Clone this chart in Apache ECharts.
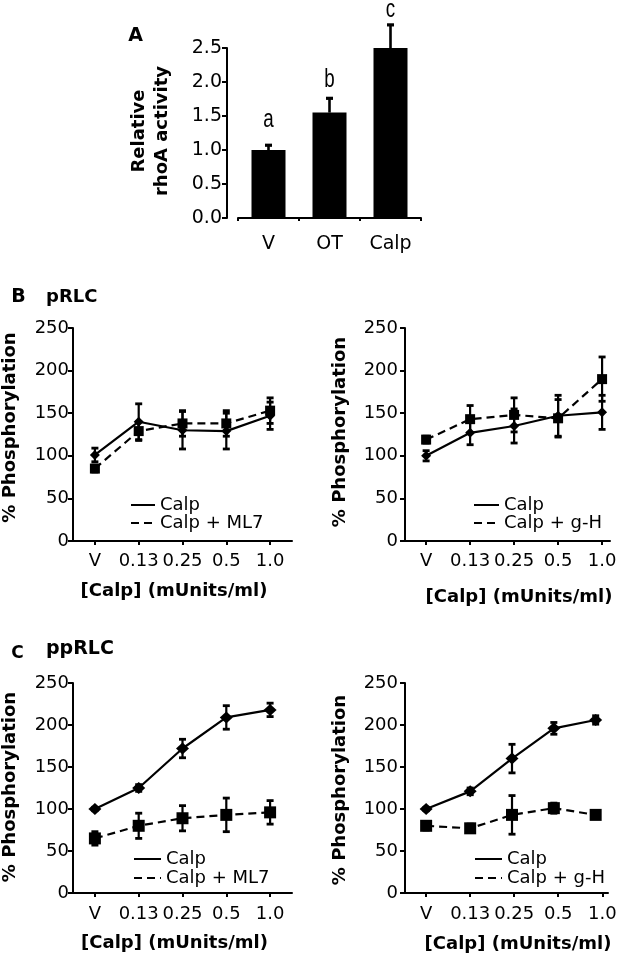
<!DOCTYPE html>
<html><head><meta charset="utf-8">
<script src="https://cdn.jsdelivr.net/npm/echarts@6/dist/echarts.min.js"></script>
<style>html,body{margin:0;padding:0;background:#fff}#c{width:622px;height:955px}</style>
</head><body><div id="c"></div>
<script>
const FONT = 'DejaVu Sans';

// ---- Panel A: relative rhoA activity ----
const aCats = ['V', 'OT', 'Calp'];
const aVals = [1.00, 1.55, 2.50];
const aErr = [0.07, 0.21, 0.34];
const aLetters = ['a', 'b', 'c'];
const aLetterY = [1.44, 2.03, 3.06];
const aTicks = [0, 0.5, 1.0, 1.5, 2.0, 2.5];

// ---- dose labels shared by B and C ----
const doseLabels = ['V', '0.13', '0.25', '0.5', '1.0'];
const dosePos = [0, 1, 2, 3, 4];

// ---- Panel B left (pRLC, Calp vs Calp + ML7) ----
const bL_x = [0, 1, 2, 3, 4];
const bL_calp = [101, 140, 130, 129, 147];
const bL_calpErr = [8, 21, 22, 21, 16];
const bL_ml7 = [85, 129, 138, 138, 153];
const bL_ml7Err = [4, 11, 15, 15, 15];

// ---- Panel B right (pRLC, Calp vs Calp + g-H) ----
const bR_x = [0, 1, 2, 3, 4];
const bR_calp = [100, 127, 135, 147, 151];
const bR_calpErr = [6, 14, 20, 24, 20];
const bR_gh = [119, 143, 148, 144, 190];
const bR_ghErr = [4, 16, 20, 22, 26];

// ---- Panel C left (ppRLC, Calp vs Calp + ML7) ----
const cL_x = [0, 1, 2, 3, 4];
const cL_calp = [100, 125, 172, 209, 218];
const cL_calpErr = [2, 4, 11, 14, 8];
const cL_ml7 = [65, 80, 89, 93, 96];
const cL_ml7Err = [8, 15, 15, 20, 14];

// ---- Panel C right (ppRLC, Calp vs Calp + g-H) ----
const cR_x = [0, 1, 1.95, 2.9, 3.85];
const cR_calp = [100, 121, 160, 196, 206];
const cR_calpErr = [2, 4, 17, 7, 5];
const cR_gh = [80, 77, 93, 101, 93];
const cR_ghErr = [5, 5, 23, 6, 4];

const chart = echarts.init(document.getElementById('c'), null, {renderer: 'canvas'});

function errRender(capW, lw, upOnly) {
  return function (params, api) {
    const x = api.value(0), y = api.value(1), e = api.value(2);
    const lo = api.coord([x, upOnly ? y : y - e]);
    const hi = api.coord([x, y + e]);
    const style = {stroke: '#000', lineWidth: lw, fill: null};
    const capStyle = Object.assign({}, style, {lineWidth: lw + 0.6});
    const kids = [
      {type: 'line', shape: {x1: lo[0], y1: lo[1], x2: hi[0], y2: hi[1]}, style: style},
      {type: 'line', shape: {x1: hi[0] - capW, y1: hi[1], x2: hi[0] + capW, y2: hi[1]}, style: capStyle}
    ];
    if (!upOnly) kids.push({type: 'line', shape: {x1: lo[0] - capW, y1: lo[1], x2: lo[0] + capW, y2: lo[1]}, style: capStyle});
    return {type: 'group', children: kids};
  };
}

function lineSeries(name, xs, ys, idx, dashed, symbol, size) {
  return {
    type: 'line', name: name, xAxisIndex: idx, yAxisIndex: idx,
    data: xs.map((x, i) => [x, ys[i]]), symbol: symbol, symbolSize: size,
    showSymbol: true, lineStyle: {color: '#000', width: 2.2, type: dashed ? [8, 5] : 'solid'},
    itemStyle: {color: '#000'}, z: 3, animation: false, silent: true
  };
}
function errSeries(xs, ys, es, idx) {
  return {
    type: 'custom', xAxisIndex: idx, yAxisIndex: idx, encode: {x: 0, y: 1},
    data: xs.map((x, i) => [x, ys[i], es[i]]), renderItem: errRender(3.5, 2.2, false),
    z: 4, silent: true, animation: false, clip: false
  };
}

const grids = [
  {left: 238, top: 48, width: 183, height: 170},
  {left: 73, top: 328, width: 219, height: 213},
  {left: 405, top: 328, width: 205, height: 213},
  {left: 73, top: 683, width: 219, height: 210},
  {left: 405, top: 683, width: 203, height: 210}
].map(g => Object.assign({containLabel: false, outerBoundsMode: 'none'}, g));

const axisLineStyle = {show: true, onZero: false, lineStyle: {color: '#000', width: 2}};
const labelStyle = {color: '#000', fontFamily: FONT, fontSize: 18};

function doseX(idx, min, max) {
  return {
    type: 'value', gridIndex: idx, min: min, max: max,
    axisLine: axisLineStyle, splitLine: {show: false},
    axisTick: {show: true, length: 4, inside: false, lineStyle: {color: '#000', width: 2}, customValues: dosePos},
    axisLabel: Object.assign({margin: idx >= 3 ? 12 : 11, customValues: dosePos,
      formatter: v => doseLabels[Math.round(v)]}, labelStyle)
  };
}
function phosY(idx, margin) {
  return {
    type: 'value', gridIndex: idx, min: 0, max: 250, interval: 50,
    axisLine: axisLineStyle, splitLine: {show: false},
    axisTick: {show: true, length: 5, lineStyle: {color: '#000', width: 2}},
    axisLabel: Object.assign({margin: margin}, labelStyle)
  };
}

const xAxes = [
  {type: 'category', gridIndex: 0, data: aCats, boundaryGap: true,
   axisLine: axisLineStyle,
   axisTick: {show: true, length: 3, interval: 0, alignWithLabel: false, lineStyle: {color: '#000', width: 2}},
   axisLabel: {color: '#000', fontFamily: FONT, fontSize: 19, margin: 17}},
  doseX(1, -0.5, 4.5),
  doseX(2, -0.48, 4.18),
  doseX(3, -0.5, 4.5),
  doseX(4, -0.48, 4.13)
];
const yAxes = [
  {type: 'value', gridIndex: 0, min: 0, max: 2.5, interval: 0.5, offset: 11,
   axisLine: axisLineStyle, splitLine: {show: false},
   axisTick: {show: true, length: 5, lineStyle: {color: '#000', width: 2}},
   axisLabel: {color: '#000', fontFamily: FONT, fontSize: 19, margin: 5, formatter: v => v.toFixed(1)}},
  phosY(1, 4), phosY(2, 7), phosY(3, 4), phosY(4, 7)
];

const series = [
  {type: 'bar', xAxisIndex: 0, yAxisIndex: 0, data: aVals, barWidth: 34,
   itemStyle: {color: '#000'}, animation: false, silent: true},
  {type: 'custom', xAxisIndex: 0, yAxisIndex: 0, encode: {x: 0, y: 1},
   data: aVals.map((v, i) => [i, v, aErr[i]]), renderItem: errRender(3.5, 2.6, true),
   z: 4, silent: true, animation: false, clip: false},
  {type: 'custom', xAxisIndex: 0, yAxisIndex: 0, encode: {x: 0, y: 1},
   data: aLetterY.map((v, i) => [i, v]), clip: false, silent: true, animation: false,
   renderItem: function (params, api) {
     const p = api.coord([api.value(0), api.value(1)]);
     return {type: 'text', x: p[0], y: p[1], scaleX: 0.75,
       style: {text: aLetters[params.dataIndex], font: '25px "Liberation Sans"', fill: '#000',
         textAlign: 'center', textVerticalAlign: 'middle'}};
   }},

  lineSeries('Calp', bL_x, bL_calp, 1, false, 'diamond', [10, 10]),
  lineSeries('Calp + ML7', bL_x, bL_ml7, 1, true, 'rect', 10),
  errSeries(bL_x, bL_calp, bL_calpErr, 1),
  errSeries(bL_x, bL_ml7, bL_ml7Err, 1),

  lineSeries('Calp', bR_x, bR_calp, 2, false, 'diamond', [10, 10]),
  lineSeries('Calp + g-H', bR_x, bR_gh, 2, true, 'rect', 10),
  errSeries(bR_x, bR_calp, bR_calpErr, 2),
  errSeries(bR_x, bR_gh, bR_ghErr, 2),

  lineSeries('Calp', cL_x, cL_calp, 3, false, 'diamond', [13, 12]),
  lineSeries('Calp + ML7', cL_x, cL_ml7, 3, true, 'rect', 12),
  errSeries(cL_x, cL_calp, cL_calpErr, 3),
  errSeries(cL_x, cL_ml7, cL_ml7Err, 3),

  lineSeries('Calp', cR_x, cR_calp, 4, false, 'diamond', [13, 12]),
  lineSeries('Calp + g-H', cR_x, cR_gh, 4, true, 'rect', 12),
  errSeries(cR_x, cR_calp, cR_calpErr, 4),
  errSeries(cR_x, cR_gh, cR_ghErr, 4)
];

function legendAt(names, left, top, w, gap) {
  return {
    data: names, left: left, top: top, orient: 'vertical', itemWidth: w, itemHeight: 14,
    itemGap: gap, selectedMode: false, padding: 0,
    itemStyle: {opacity: 0},
    textStyle: {color: '#000', fontFamily: FONT, fontSize: 18, lineHeight: 18}
  };
}

const boldT = (size) => 'bold ' + size + 'px "' + FONT + '"';
function txt(text, x, y, size, opts) {
  return Object.assign({type: 'text', x: x, y: y, silent: true,
    style: {text: text, font: boldT(size), fill: '#000', textAlign: 'center', textVerticalAlign: 'middle'}}, opts || {});
}
function ytitle(text, x, y, size, lh) {
  return {type: 'text', x: x, y: y, rotation: Math.PI / 2, silent: true,
    style: {text: text, font: boldT(size), fill: '#000', textAlign: 'center', textVerticalAlign: 'middle', lineHeight: lh || size}};
}

const graphics = [
  txt('A', 135.5, 36, 19),
  ytitle('Relative\nrhoA activity', 151, 131, 18, 23),
  txt('B', 18.5, 297, 19),
  {type: 'text', x: 46, y: 297, silent: true, style: {text: 'pRLC', font: boldT(18), fill: '#000', textAlign: 'left', textVerticalAlign: 'middle'}},
  txt('C', 17.5, 654, 17),
  {type: 'text', x: 46, y: 649, silent: true, style: {text: 'ppRLC', font: boldT(19), fill: '#000', textAlign: 'left', textVerticalAlign: 'middle'}},
  ytitle('% Phosphorylation', 10, 427.5, 18),
  ytitle('% Phosphorylation', 340, 432, 18),
  ytitle('% Phosphorylation', 10, 787, 18),
  ytitle('% Phosphorylation', 340, 790, 18),
  txt('[Calp] (mUnits/ml)', 174, 591, 18),
  txt('[Calp] (mUnits/ml)', 519, 597, 18),
  txt('[Calp] (mUnits/ml)', 174.5, 943, 18),
  txt('[Calp] (mUnits/ml)', 518, 944, 18)
];

chart.setOption({
  animation: false,
  backgroundColor: '#fff',
  grid: grids,
  xAxis: xAxes,
  yAxis: yAxes,
  series: series,
  legend: [
    legendAt(['Calp', 'Calp + ML7'], 130, 496, 24, 0),
    legendAt(['Calp', 'Calp + g-H'], 473, 496, 25, 0),
    legendAt(['Calp', 'Calp + ML7'], 133, 850, 27, 1),
    legendAt(['Calp', 'Calp + g-H'], 474, 850, 27, 1)
  ],
  graphic: graphics
});
</script>
</body></html>
